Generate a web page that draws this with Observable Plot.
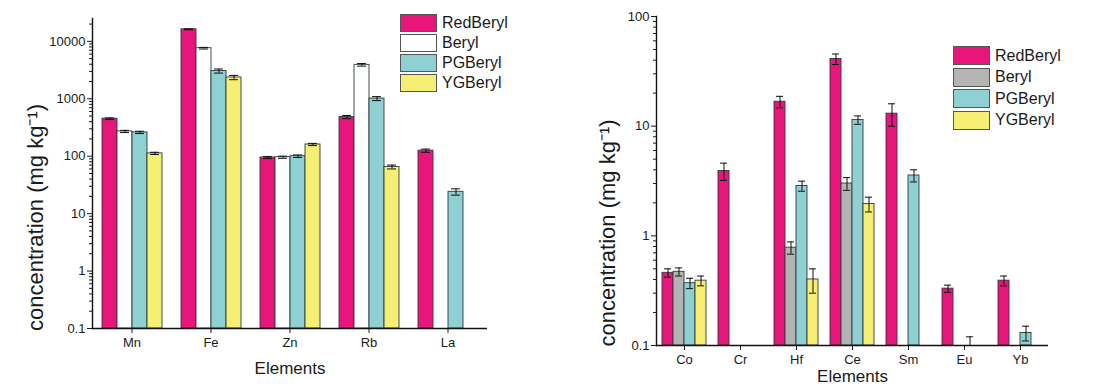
<!DOCTYPE html>
<html><head><meta charset="utf-8">
<script src="https://cdn.jsdelivr.net/npm/d3@7"></script>
<script src="https://cdn.jsdelivr.net/npm/@observablehq/plot@0.6"></script>
<style>
body{margin:0;background:#fff;font-family:Arial,"Liberation Sans",sans-serif;}
#wrap{display:flex;width:1094px;height:387px;overflow:hidden;}
.panel{position:relative;width:547px;height:387px;}
.legend{position:absolute;font-size:16px;color:#1a1a1a;font-family:Arial,"Liberation Sans",sans-serif;}
.legend .row{display:flex;align-items:center;}
.legend .sw{width:37px;border:1px solid #555;box-sizing:border-box;margin-right:5px;}
svg g[aria-label$="-axis label"] text{font-size:17px;}
</style></head><body>
<div id="wrap"><div class="panel" id="left"></div><div class="panel" id="right"></div></div>
<script>
// ---- data ----
const series = ["RedBeryl", "Beryl", "PGBeryl", "YGBeryl"];

const elementsL = ["Mn", "Fe", "Zn", "Rb", "La"];
const redL   = [450, 16200, 95, 480, 125];
const berylL = [270, 7600, 96, 3900, null];
const pgL    = [260, 3050, 100, 1010, 24];
const ygL    = [112, 2350, 160, 65, null];
const redLErr   = [15, 300, 4, 30, 8];
const berylLErr = [12, 250, 4, 200, null];
const pgLErr    = [12, 250, 5, 80, 3];
const ygLErr    = [5, 200, 7, 5, null];

const elementsR = ["Co", "Cr", "Hf", "Ce", "Sm", "Eu", "Yb"];
const redR   = [0.46, 3.9, 16.7, 41, 13, 0.33, 0.39];
const berylR = [0.47, null, 0.78, 3.0, null, null, null];
const pgR    = [0.37, null, 2.85, 11.4, 3.55, 0.1, 0.13];
const ygR    = [0.39, null, 0.40, 1.95, null, null, null];
const redRErr   = [0.04, 0.7, 2, 4.5, 3, 0.025, 0.04];
const berylRErr = [0.04, null, 0.1, 0.4, null, null, null];
const pgRErr    = [0.04, null, 0.3, 1.0, 0.45, 0.02, 0.02];
const ygRErr    = [0.04, null, 0.1, 0.3, null, null, null];

const yTicksL = [0.1, 1, 10, 100, 1000, 10000];
const yTicksR = [0.1, 1, 10, 100];
const yLabel = "concentration (mg kg\u207B\u00B9)";
const xLabel = "Elements";

const colorsL = ["#e8157a", "#ffffff", "#8fd0d3", "#f6ef74"];
const colorsR = ["#e8157a", "#b4b4b4", "#8fd0d3", "#f6ef74"];

function rows(elements, vals, errs) {
  const out = [];
  elements.forEach((el, i) => series.forEach((s, j) => {
    const v = vals[j][i];
    if (v == null) return;
    out.push({element: el, series: s, value: v, err: errs[j][i]});
  }));
  return out;
}

function minorTicks(ticks, max) {
  const m = [];
  ticks.forEach(t => { for (let k = 2; k <= 9; k++) if (t * k <= max) m.push(t * k); });
  return m;
}

function chart(o) {
  const yMin = o.yDomain[0];
  return Plot.plot({
    width: 547, height: 387,
    marginLeft: o.marginLeft, marginRight: o.marginRight,
    marginTop: o.marginTop, marginBottom: o.marginBottom,
    style: {fontFamily: "Arial, 'Liberation Sans', sans-serif", fontSize: "13px", color: "#1a1a1a", background: "transparent", overflow: "visible"},
    fx: {domain: o.elements, padding: 0, label: xLabel},
    x: {domain: series, paddingInner: 0, paddingOuter: 0.5, axis: null},
    y: {type: "log", domain: o.yDomain},
    color: {domain: series, range: o.colors},
    marks: [
      Plot.barY(o.data, {fx: "element", x: "series", y1: yMin, y2: "value", fill: "series", stroke: "#2e3b3b", strokeWidth: 0.9}),
      Plot.ruleX(o.data, {fx: "element", x: "series", y1: d => Math.max(yMin, d.value - d.err), y2: d => d.value + d.err, stroke: "#111", strokeWidth: 1}),
      Plot.tickY(o.data, {fx: "element", x: "series", y: d => d.value + d.err, insetLeft: o.capInset, insetRight: o.capInset, stroke: "#111", strokeWidth: 1}),
      Plot.tickY(o.data.filter(d => d.value - d.err > yMin), {fx: "element", x: "series", y: d => d.value - d.err, insetLeft: o.capInset, insetRight: o.capInset, stroke: "#111", strokeWidth: 1}),
      Plot.ruleY([yMin], {stroke: "#111", strokeWidth: 1.4}),
      Plot.frame({anchor: "left", facetAnchor: "left", stroke: "#111", strokeWidth: 1.4}),
      Plot.axisY({ticks: o.yTicks, tickFormat: d => String(d), tickSize: 5, tickPadding: 2, label: null}),
      Plot.axisY({ticks: minorTicks(o.yTicks, o.yDomain[1]), tickSize: 3, text: null, label: null}),
      Plot.text([yLabel], {frameAnchor: "left", facetAnchor: "left", rotate: -90, textAnchor: "middle", dx: o.titleDx, dy: o.titleDy, fontSize: 22, fill: "#1a1a1a"}),
      Plot.axisFx({anchor: "bottom", tickSize: 5, tickPadding: 4, label: xLabel, labelAnchor: "center", labelOffset: o.xLabelOffset})
    ]
  });
}

document.getElementById("left").append(chart({
  data: rows(elementsL, [redL, berylL, pgL, ygL], [redLErr, berylLErr, pgLErr, ygLErr]),
  elements: elementsL, colors: colorsL, yDomain: [0.1, 25000], yTicks: yTicksL,
  marginLeft: 92, marginRight: 60, marginTop: 18, marginBottom: 59,
  capInset: 3, titleDx: -57, titleDy: 44, xLabelOffset: 45
}));
document.getElementById("right").append(chart({
  data: rows(elementsR, [redR, berylR, pgR, ygR], [redRErr, berylRErr, pgRErr, ygRErr]),
  elements: elementsR, colors: colorsR, yDomain: [0.1, 100], yTicks: yTicksR,
  marginLeft: 109, marginRight: 46, marginTop: 16, marginBottom: 42,
  capInset: 2, titleDx: -49, titleDy: 52, xLabelOffset: 36
}));

function legend(parent, colors, left, top, rowH, swH) {
  const lg = document.createElement("div");
  lg.className = "legend";
  lg.style.left = left + "px";
  lg.style.top = top + "px";
  series.forEach((s, i) => {
    const r = document.createElement("div");
    r.className = "row";
    r.style.height = rowH + "px";
    const sw = document.createElement("span");
    sw.className = "sw";
    sw.style.height = swH + "px";
    sw.style.background = colors[i];
    const t = document.createElement("span");
    t.textContent = s;
    r.append(sw, t);
    lg.append(r);
  });
  document.getElementById(parent).append(lg);
}
legend("left", colorsL, 400, 13, 20, 18);
legend("right", colorsR, 406, 45, 21.5, 19);
</script>
</body></html>
